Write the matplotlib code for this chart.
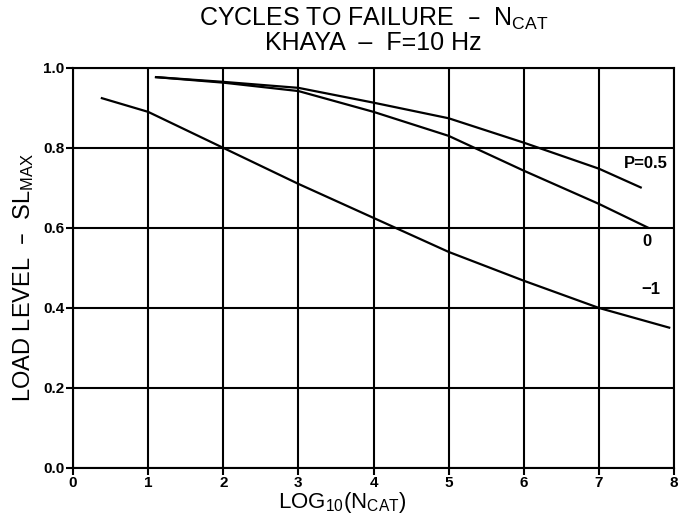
import matplotlib
matplotlib.use("Agg")
import matplotlib.pyplot as plt

# curves: x = log10(N_cat), y = load level SL_max
x_m1 = [0.37, 1.0, 2.0, 3.0, 4.0, 5.0, 6.0, 7.0, 7.95]
y_m1 = [0.925, 0.89, 0.80, 0.71, 0.625, 0.54, 0.468, 0.40, 0.35]

x_0 = [1.09, 2.0, 3.0, 4.0, 5.0, 6.0, 7.0, 7.66]
y_0 = [0.977, 0.963, 0.942, 0.89, 0.83, 0.743, 0.66, 0.60]

x_05 = [1.09, 2.0, 3.0, 4.0, 5.0, 6.0, 7.0, 7.57]
y_05 = [0.977, 0.965, 0.95, 0.913, 0.874, 0.813, 0.748, 0.70]

curve_labels = ["P=0.5", "0", "\u22121"]
label_pos = [(7.92, 0.76), (7.7, 0.567), (7.82, 0.445)]

x_ticks = [0, 1, 2, 3, 4, 5, 6, 7, 8]
y_ticks = [0.0, 0.2, 0.4, 0.6, 0.8, 1.0]

plt.rcParams["font.family"] = ["Liberation Sans", "DejaVu Sans"]
plt.rcParams["mathtext.default"] = "regular"

fig = plt.figure(figsize=(6.85, 5.14), dpi=100)
ax = fig.add_axes([0.1066, 0.0895, 0.8774, 0.7785])

for xs, ys in [(x_m1, y_m1), (x_0, y_0), (x_05, y_05)]:
    ax.plot(xs, ys, color="black", lw=1.6, solid_capstyle="butt")

ax.set_xlim(0, 8)
ax.set_ylim(0, 1)
ax.set_xticks(x_ticks)
ax.set_yticks(y_ticks)
ax.set_xticklabels([str(v) for v in x_ticks], fontweight="bold", fontsize=11)
ax.set_yticklabels([f"{v:.1f}" for v in y_ticks], fontweight="bold", fontsize=11)
ax.tick_params(direction="out", length=5, width=1.5, pad=1)
ax.grid(True, color="black", lw=1.5)
for s in ax.spines.values():
    s.set_linewidth(1.5)

for txt, (lx, ly) in zip(curve_labels, label_pos):
    ax.text(lx, ly, txt, ha="right", va="center", fontsize=12, fontweight="bold")

fig.text(0.545, 0.963, "CYCLES TO FAILURE  \u2013  N$_{CAT}$", ha="center", va="center",
         fontsize=18)
fig.text(0.545, 0.916, "KHAYA  \u2013  F=10 Hz", ha="center", va="center",
         fontsize=18)
fig.text(0.50, 0.022, "LOG$_{10}$(N$_{CAT}$)", ha="center", va="center",
         fontsize=16)
fig.text(0.034, 0.46, "LOAD LEVEL  \u2013  SL$_{MAX}$", ha="center", va="center",
         rotation=90, fontsize=17)

fig.savefig("out.png", dpi=100)
